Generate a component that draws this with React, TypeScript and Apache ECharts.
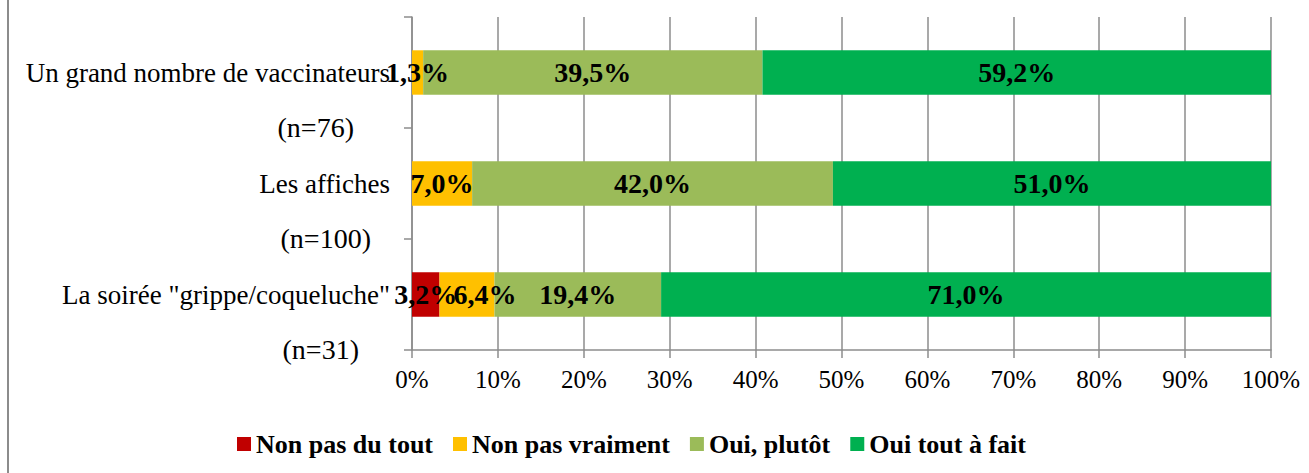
import React, { useEffect, useRef } from "react";
import * as echarts from "echarts";

const categories = [
  'La soirée "grippe/coqueluche"',
  "Les affiches",
  "Un grand nombre de vaccinateurs",
];
const sampleSizes = ["(n=31)", "(n=100)", "(n=76)"];

const seriesNames = [
  "Non pas du tout",
  "Non pas vraiment",
  "Oui, plutôt",
  "Oui tout à fait",
];
const nonPasDuTout = [3.2, 0, 0];
const nonPasVraiment = [6.4, 7.0, 1.3];
const ouiPlutot = [19.4, 42.0, 39.5];
const ouiToutAFait = [71.0, 51.0, 59.2];

const colors = ["#C00000", "#FFC000", "#9BBB59", "#00B050"];

const FONT = "'Liberation Serif', 'Times New Roman', serif";

export default function App() {
  const ref = useRef<HTMLDivElement>(null);

  useEffect(() => {
    if (!ref.current) return;
    const chart = echarts.init(ref.current, null, { renderer: "svg" });
    const values = [nonPasDuTout, nonPasVraiment, ouiPlutot, ouiToutAFait];
    // label nudge to avoid overlap (series index, category index) -> offset
    const nudges: Record<string, number[]> = { "1-0": [18, 0] };
    const nPad = [31, 19, 36];

    const rich: any = {
      e: { fontFamily: FONT, fontSize: 27, lineHeight: 70 },
      a: { fontFamily: FONT, fontSize: 27, lineHeight: 40, color: "#000" },
    };
    nPad.forEach((p, i) => {
      rich["b" + i] = {
        fontFamily: FONT,
        fontSize: 28,
        lineHeight: 70,
        color: "#000",
        padding: [0, p, 0, 0],
      };
    });

    chart.setOption({
      animation: false,
      grid: { left: 412, right: 38, top: 17, bottom: 123, containLabel: false },
      legend: {
        left: 232,
        top: 426,
        itemWidth: 14,
        itemHeight: 14,
        itemGap: 20,
        icon: "rect",
        data: seriesNames,
        textStyle: {
          fontFamily: FONT,
          fontSize: 26,
          fontWeight: "bold",
          color: "#000",
        },
      },
      xAxis: {
        type: "value",
        min: 0,
        max: 100,
        interval: 10,
        axisLine: { show: true, lineStyle: { color: "#8c8c8c", width: 1.5 } },
        axisTick: { show: true, length: 8, lineStyle: { color: "#8c8c8c", width: 1.5 } },
        splitLine: { show: true, lineStyle: { color: "#8c8c8c", width: 1.5 } },
        axisLabel: {
          formatter: "{value}%",
          fontFamily: FONT,
          fontSize: 25,
          color: "#000",
          margin: 17,
        },
      },
      yAxis: {
        type: "category",
        data: categories,
        axisLine: { show: true, lineStyle: { color: "#8c8c8c", width: 1.5 } },
        axisTick: { show: true, length: 8, lineStyle: { color: "#8c8c8c", width: 1.5 } },
        axisLabel: {
          interval: 0,
          margin: 22,
          fontFamily: FONT,
          fontSize: 27,
          color: "#000",
          formatter: (name: string, idx: number) =>
            `{e| }\n{a|${name}}\n{b${idx}|${sampleSizes[idx]}}`,
          rich,
        },
      },
      series: seriesNames.map((name, s) => ({
        name,
        type: "bar",
        stack: "total",
        barWidth: "40%",
        itemStyle: { color: colors[s] },
        label: {
          show: true,
          position: "inside",
          fontFamily: FONT,
          fontSize: 28,
          fontWeight: "bold",
          color: "#000",
          formatter: (p: any) =>
            p.value === 0 ? "" : p.value.toFixed(1).replace(".", ",") + "%",
        },
        data: values[s].map((v, i) =>
          nudges[`${s}-${i}`] ? { value: v, label: { offset: nudges[`${s}-${i}`] } } : v
        ),
      })),
      graphic: [
        {
          type: "rect",
          shape: { x: 7, y: 0, width: 2, height: 473 },
          style: { fill: "#8c8c8c" },
        },
      ],
    });
    return () => chart.dispose();
  }, []);

  return (
    <div
      ref={ref}
      style={{ position: "fixed", left: 0, top: 0, width: 1309, height: 473, background: "#fff" }}
    />
  );
}
